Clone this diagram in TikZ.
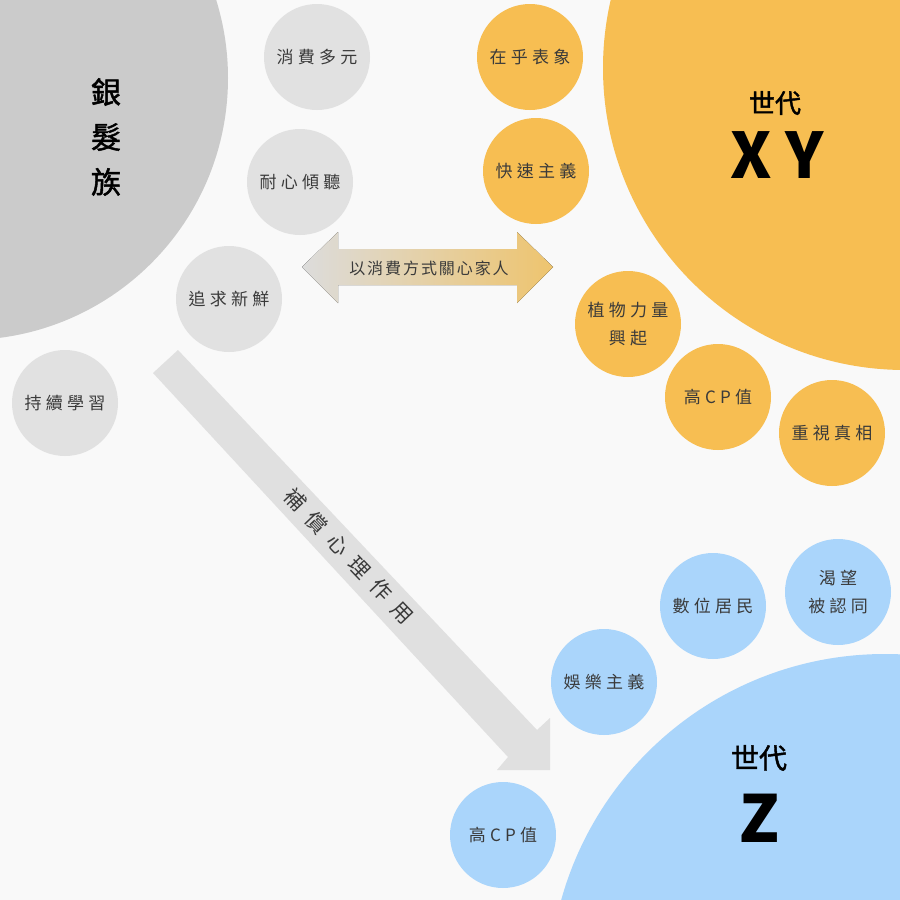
\documentclass[tikz,border=0pt]{standalone}
\usepackage{fontspec}
\setmainfont{Noto Sans CJK TC}
\newfontfamily\cjksp[LetterSpace=25]{Noto Sans CJK TC}
\newfontfamily\cjkar[LetterSpace=12]{Noto Sans CJK TC}
\newfontfamily\cjkdiag[LetterSpace=48]{Noto Sans CJK TC}
\newfontfamily\cjkbig[LetterSpace=22]{Noto Sans CJK TC}
\newfontfamily\cjkplain{Noto Sans CJK TC}
\newfontfamily\cjkmed[FakeBold=1.6]{Noto Sans CJK TC}
\definecolor{bgc}{HTML}{F9F9F9}
\definecolor{biggray}{HTML}{CBCBCB}
\definecolor{smallgray}{HTML}{E1E1E1}
\definecolor{orangec}{HTML}{F7BE52}
\definecolor{bluec}{HTML}{AAD5FB}
\definecolor{arrgray}{HTML}{E0E0E0}
\definecolor{arrleft}{HTML}{DCDCDC}
\definecolor{arrright}{HTML}{EEC46E}
\definecolor{txt}{HTML}{3A3A3A}
\tikzset{
  bubble/.style={circle, minimum size=106pt, inner sep=0pt, align=center,
    text=txt, font=\cjksp\fontsize{17}{28}\selectfont},
  graybub/.style={bubble, fill=smallgray},
  orangebub/.style={bubble, fill=orangec},
  bluebub/.style={bubble, fill=bluec},
  bigcircle/.style={circle, inner sep=0pt},
  gentitle/.style={text=black, font=\cjkmed\fontsize{26}{30}\selectfont},
  genletter/.style={text=black, font=\cjkbig\bfseries\fontsize{63}{63}\selectfont},
  arrowtext/.style={text=txt, inner sep=0pt}
}
\begin{document}
\begin{tikzpicture}[x=1pt,y=-1pt]
\fill[bgc] (0,0) rectangle (900,900);
\clip (0,0) rectangle (900,900);
\useasboundingbox (0,0) rectangle (900,900);

% big circles
\node[bigcircle, fill=biggray, minimum size=524pt] (silver) at (-34,78) {};
\node[bigcircle, fill=orangec, minimum size=604pt] (xy) at (905,68) {};
\node[bigcircle, fill=bluec, minimum size=672pt] (z) at (885,990) {};

% diagonal arrow
\fill[arrgray] (153,373) -- (178,350) -- (537,730) -- (550,718) -- (550,770)
  -- (497,770) -- (508,757) -- cycle;
\node[arrowtext, rotate=-46.3, font=\cjkdiag\fontsize{21}{21}\selectfont] (comp) at (349,556) {補償心理作用};

% double arrow
\fill[left color=arrleft, right color=arrright] (302,267) -- (338,232) -- (338,249)
  -- (517,249) -- (517,232) -- (553,267) -- (517,303) -- (517,285) -- (338,285)
  -- (338,303) -- cycle;
\node[arrowtext, font=\cjkar\fontsize{16}{16}\selectfont] (care) at (429,268) {以消費方式關心家人};

% titles
\node[text=black, align=center, font=\cjkmed\fontsize{30}{45}\selectfont] (silvert) at (106,137) {銀\\髮\\族};
\node[gentitle] (xyt) at (775,103) {世代};
\node[genletter] (xyl) at (777,155) {XY};
\node[gentitle, font=\cjkmed\fontsize{28}{30}\selectfont] (zt) at (759,758) {世代};
\node[genletter, font=\cjkplain\bfseries\fontsize{65}{65}\selectfont] (zl) at (760,818) {Z};

% gray bubbles
\node[graybub] (g1) at (317,57) {消費多元};
\node[graybub] (g2) at (300,182) {耐心傾聽};
\node[graybub] (g3) at (229,299) {追求新鮮};
\node[graybub] (g4) at (65,403) {持續學習};

% orange bubbles
\node[orangebub] (o1) at (530,57) {在乎表象};
\node[orangebub] (o2) at (536,171) {快速主義};
\node[orangebub] (o3) at (628,324) {植物力量\\興起};
\node[orangebub] (o4) at (718,397) {高CP值};
\node[orangebub] (o5) at (832,433) {重視真相};

% blue bubbles
\node[bluebub] (b1) at (604,682) {娛樂主義};
\node[bluebub] (b2) at (713,606) {數位居民};
\node[bluebub] (b3) at (838,592) {渴望\\被認同};
\node[bluebub] (b4) at (503,835) {高CP值};
\end{tikzpicture}
\end{document}
